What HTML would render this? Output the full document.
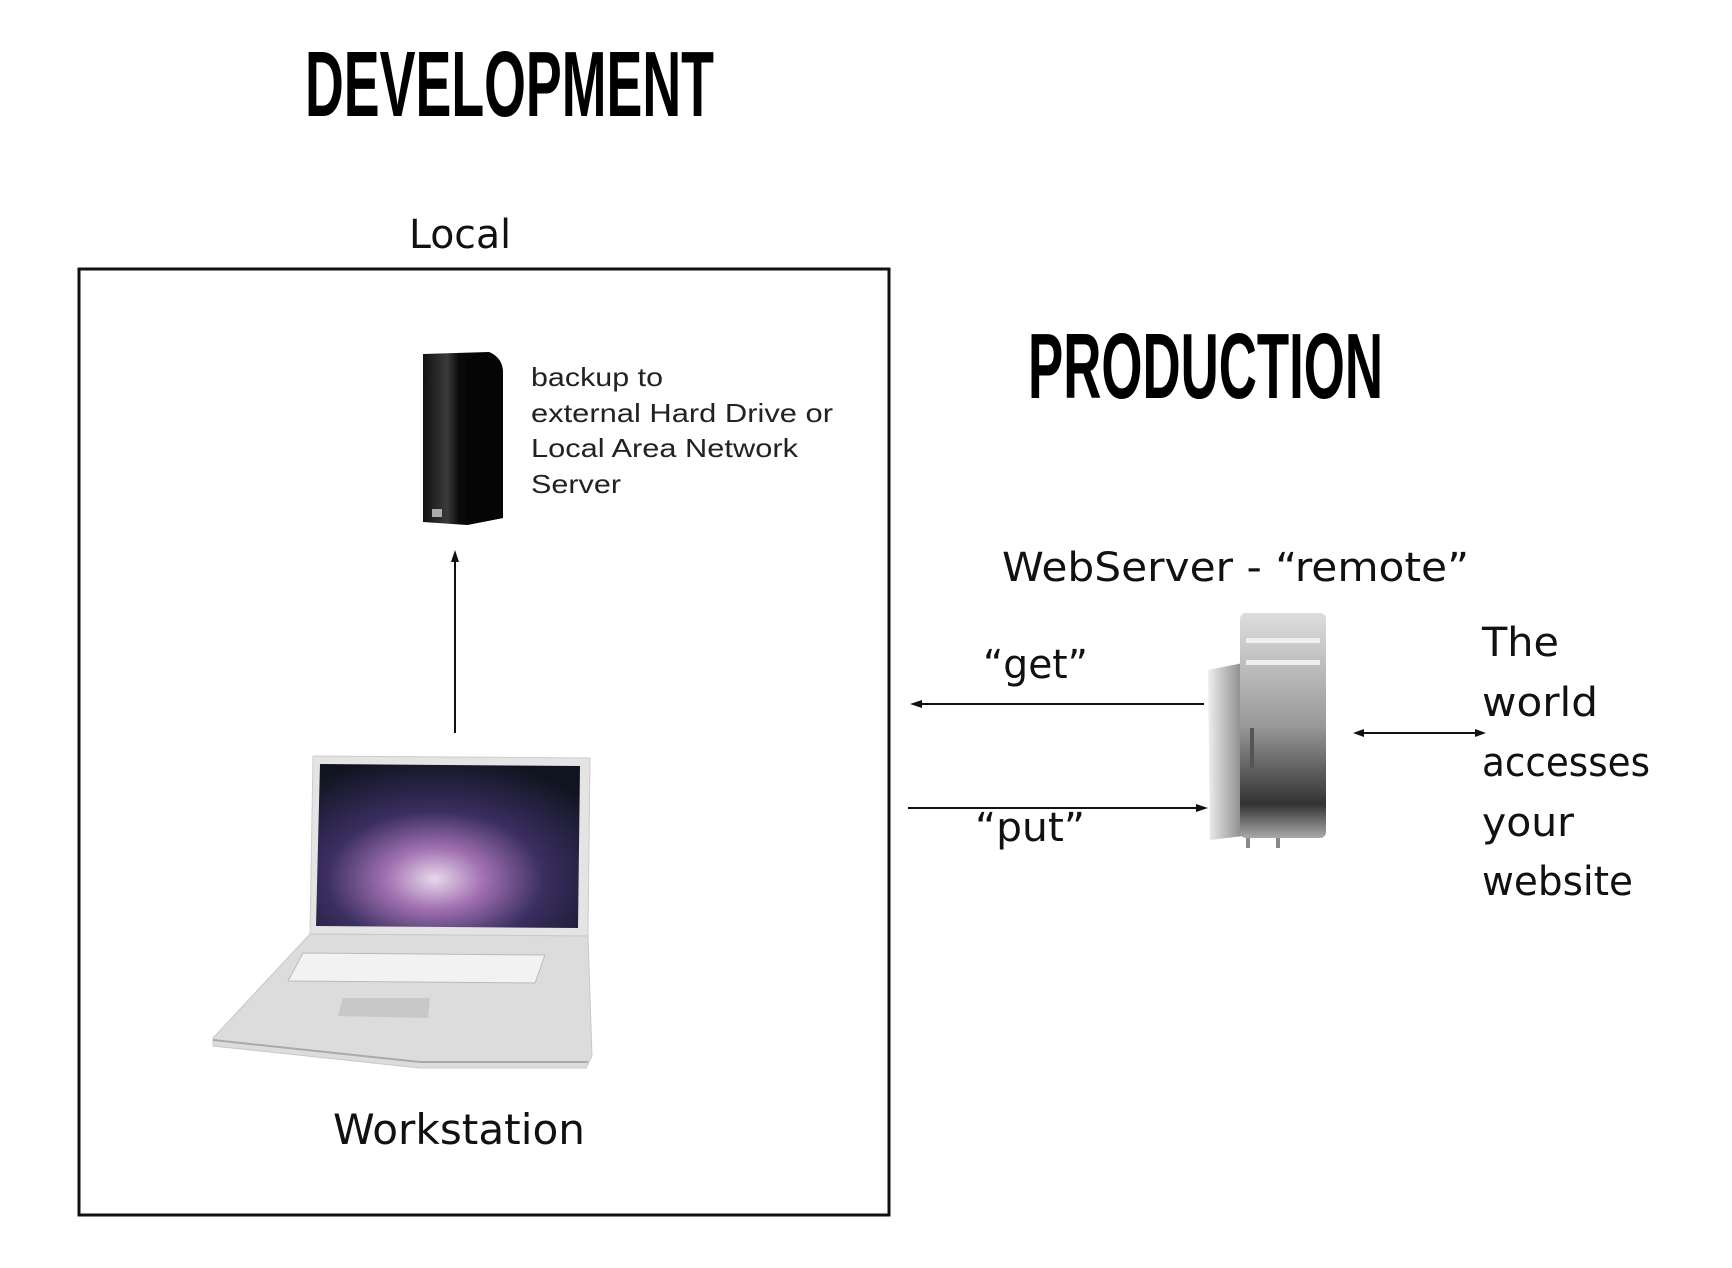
<!DOCTYPE html>
<html><head><meta charset="utf-8"><style>
html,body{margin:0;padding:0;background:#fff;}
svg{display:block;}
</style></head><body>
<svg width="1732" height="1268" viewBox="0 0 1732 1268" xmlns="http://www.w3.org/2000/svg">
<defs>
<linearGradient id="hd" x1="0" x2="1" y1="0" y2="0">
<stop offset="0" stop-color="#111"/><stop offset="0.3" stop-color="#3a3a3a"/><stop offset="0.45" stop-color="#0a0a0a"/><stop offset="1" stop-color="#000"/>
</linearGradient>
<radialGradient id="scr" cx="0.45" cy="0.7" r="0.75">
<stop offset="0" stop-color="#e8d8ec"/><stop offset="0.25" stop-color="#a070b0"/><stop offset="0.55" stop-color="#3a2e60"/><stop offset="1" stop-color="#101420"/>
</radialGradient>
<linearGradient id="mp" x1="0" x2="0" y1="0" y2="1">
<stop offset="0" stop-color="#ddd"/><stop offset="0.5" stop-color="#999"/><stop offset="0.85" stop-color="#333"/><stop offset="1" stop-color="#aaa"/>
</linearGradient>
<linearGradient id="mps" x1="0" x2="1">
<stop offset="0" stop-color="#eee"/><stop offset="1" stop-color="#888"/>
</linearGradient>
</defs>
<g font-family="'Liberation Sans', sans-serif" font-weight="bold">
<text x="305" y="116" font-size="93" textLength="409" lengthAdjust="spacingAndGlyphs">DEVELOPMENT</text>
<text x="1028" y="398" font-size="93" textLength="355" lengthAdjust="spacingAndGlyphs">PRODUCTION</text>
</g>
<g font-family="'DejaVu Sans', 'Liberation Sans', sans-serif" fill="#111">
<text x="409" y="248" font-size="40" textLength="102" lengthAdjust="spacingAndGlyphs">Local</text>
<text x="333" y="1144" font-size="42" textLength="252" lengthAdjust="spacingAndGlyphs">Workstation</text>
<text x="1002" y="581" font-size="40" textLength="467" lengthAdjust="spacingAndGlyphs">WebServer - “remote”</text>
<text x="983" y="678" font-size="40" textLength="105" lengthAdjust="spacingAndGlyphs">“get”</text>
<text x="975" y="841" font-size="40" textLength="110" lengthAdjust="spacingAndGlyphs">“put”</text>
<g font-size="40">
<text x="1482" y="656" textLength="77" lengthAdjust="spacingAndGlyphs">The</text>
<text x="1482" y="716" textLength="116" lengthAdjust="spacingAndGlyphs">world</text>
<text x="1482" y="776" textLength="168" lengthAdjust="spacingAndGlyphs">accesses</text>
<text x="1482" y="836" textLength="92" lengthAdjust="spacingAndGlyphs">your</text>
<text x="1482" y="895" textLength="151" lengthAdjust="spacingAndGlyphs">website</text>
</g>
</g>
<g font-family="'Liberation Sans', sans-serif" font-size="26" fill="#222">
<text x="531" y="386" textLength="132" lengthAdjust="spacingAndGlyphs">backup to</text>
<text x="531" y="422" textLength="302" lengthAdjust="spacingAndGlyphs">external Hard Drive or</text>
<text x="531" y="457" textLength="267" lengthAdjust="spacingAndGlyphs">Local Area Network</text>
<text x="531" y="493" textLength="90" lengthAdjust="spacingAndGlyphs">Server</text>
</g>
<rect x="79" y="269" width="810" height="946" fill="none" stroke="#111" stroke-width="3"/>
<line x1="455" y1="556" x2="455" y2="733" stroke="#111" stroke-width="2"/>
<polygon points="455,550 451,562 459,562" fill="#111"/>
<line x1="916" y1="704" x2="1204" y2="704" stroke="#111" stroke-width="2"/>
<polygon points="910,704 922,700 922,708" fill="#111"/>
<line x1="908" y1="808" x2="1200" y2="808" stroke="#111" stroke-width="2"/>
<polygon points="1208,808 1196,804 1196,812" fill="#111"/>
<line x1="1358" y1="733" x2="1480" y2="733" stroke="#111" stroke-width="2"/>
<polygon points="1353,733 1364,729 1364,737" fill="#111"/>
<polygon points="1486,733 1475,729 1475,737" fill="#111"/>
<path d="M423,354 L489,352 Q503,358 503,373 L503,518 L467,525 L423,522 Z" fill="url(#hd)"/>
<path d="M467,360 L489,352 Q503,358 503,373 L503,518 L467,525 Z" fill="#050505"/>
<rect x="432" y="509" width="10" height="8" fill="#aaa"/>
<path d="M313,756 L590,758 L588,936 L310,934 Z" fill="#e4e4e4" stroke="#ccc"/>
<path d="M320,764 L580,766 L578,928 L316,926 Z" fill="url(#scr)"/>
<path d="M310,934 L588,936 L592,1056 L586,1068 L420,1068 L213,1046 L213,1038 Z" fill="#dcdcdc" stroke="#c8c8c8"/>
<path d="M303,953 L545,955 L535,983 L288,981 Z" fill="#f2f2f2" stroke="#bbb"/>
<path d="M343,998 L430,998 L428,1018 L338,1016 Z" fill="#c8c8c8"/>
<path d="M213,1040 L420,1062 L588,1062" fill="none" stroke="#aaa" stroke-width="2"/>
<path d="M1208,670 L1243,663 L1243,836 L1210,840 Z" fill="url(#mps)"/>
<rect x="1240" y="613" width="86" height="225" rx="6" fill="url(#mp)"/>
<rect x="1246" y="638" width="74" height="5" fill="#eee"/>
<rect x="1246" y="660" width="74" height="5" fill="#eee"/>
<rect x="1250" y="728" width="4" height="40" fill="#555"/>
<path d="M1248,838 L1248,848 M1278,838 L1278,848" stroke="#888" stroke-width="4"/>
</svg>
</body></html>
